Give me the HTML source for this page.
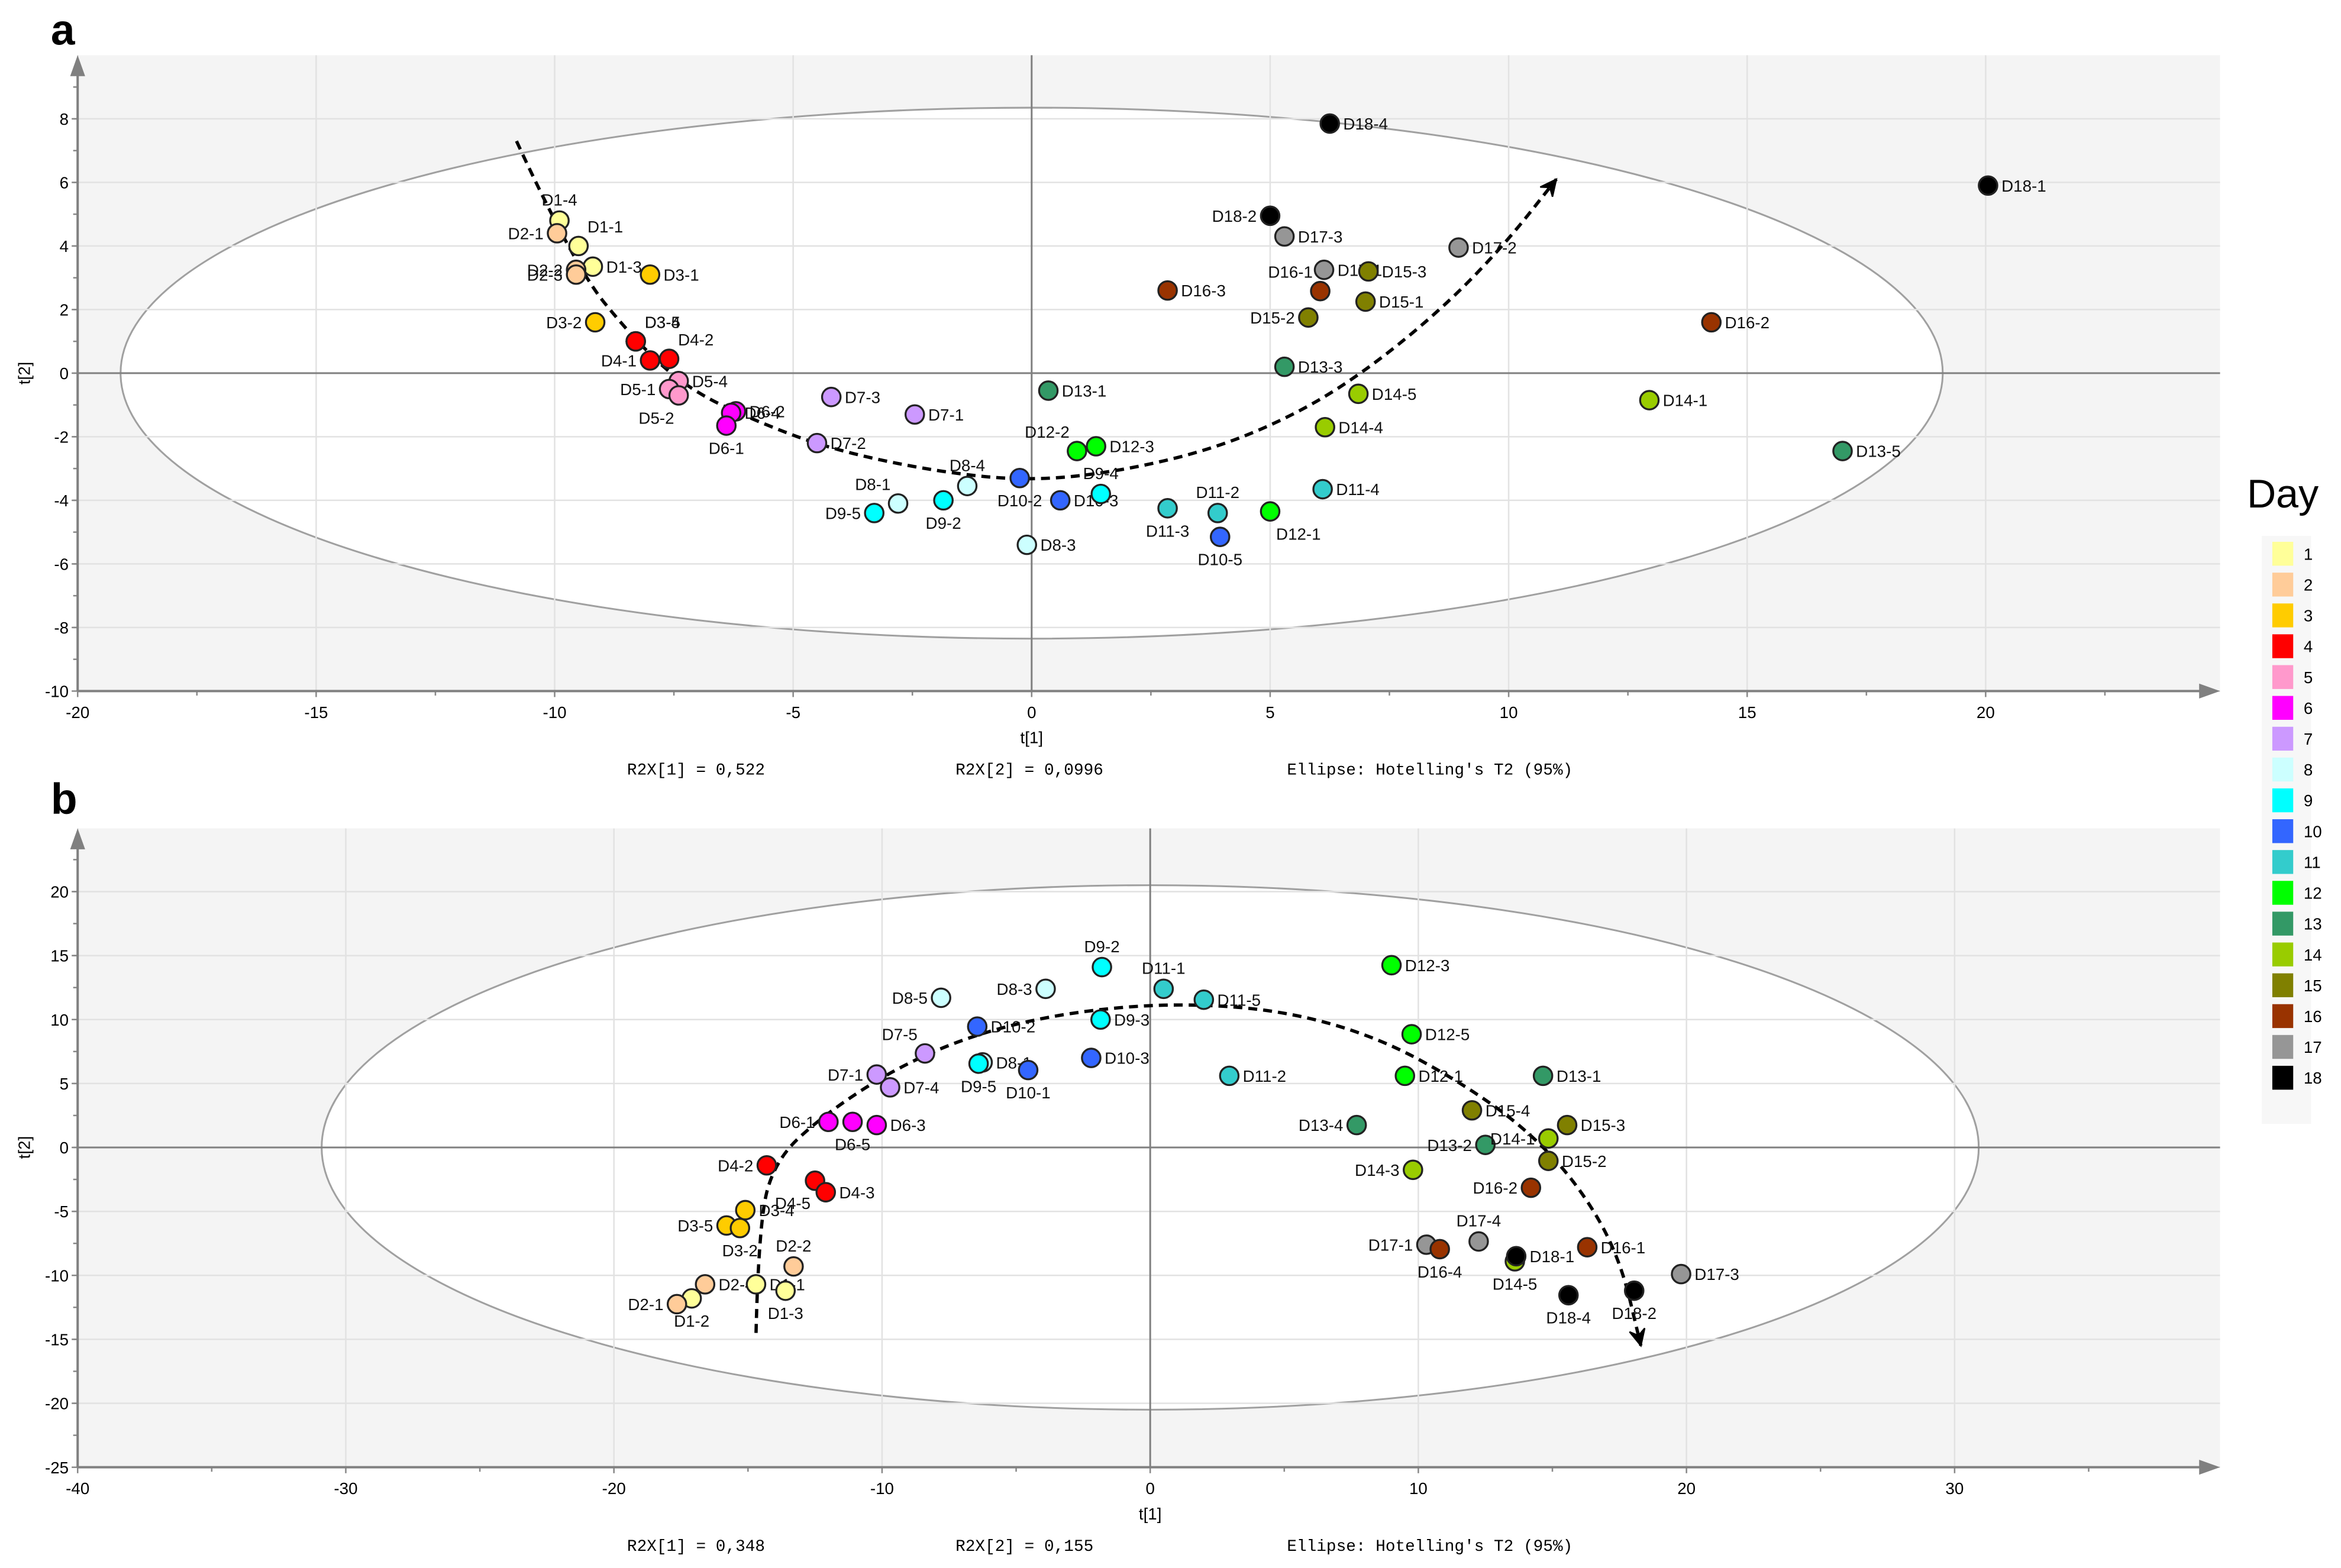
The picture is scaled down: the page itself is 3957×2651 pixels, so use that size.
<!DOCTYPE html>
<html><head><meta charset="utf-8"><title>PCA score plots</title>
<style>
html,body{margin:0;padding:0;background:#fff;}
svg{display:block;}
text{font-family:"Liberation Sans Narrow","Liberation Sans",sans-serif;}
.mono{font-family:"Liberation Mono",monospace;}
</style></head>
<body>
<svg id="chart" xmlns="http://www.w3.org/2000/svg" width="3957" height="2651" viewBox="0 0 1568 1050.5">
<rect x="0" y="0" width="1568" height="1050.5" fill="#fff"/>
<g id="pa"></g>
<g id="pb"></g>
<g id="legend"></g>
</svg>
<script>
const dayColors = ["#ffff99","#ffcc99","#ffcc00","#ff0000","#ff99cc","#ff00ff","#cc99ff","#ccffff","#00ffff","#3366ff","#33cccc","#00ff00","#339966","#99cc00","#808000","#993300","#969696","#000000"];
const dayLabels = ["1","2","3","4","5","6","7","8","9","10","11","12","13","14","15","16","17","18"];

// Panel a data
const aNames = ["D3-4","D3-5","D1-4","D1-1","D2-1","D1-3","D2-2","D2-3","D3-1","D3-2","D4-4","D4-1","D4-2","D5-4","D5-1","D5-2","D6-2","D6-4","D6-1","D7-3","D7-1","D7-2","D8-4","D8-1","D9-5","D9-2","D10-2","D10-3","D9-4","D8-3","D13-1","D12-2","D12-3","D11-3","D11-2","D10-5","D12-1","D11-4","D14-4","D14-5","D13-3","D15-2","D16-1","D17-1","D15-3","D15-1","D16-3","D17-3","D18-2","D17-2","D18-4","D18-1","D16-2","D14-1","D13-5"];
const aX = [-8.3,-8.3,-9.9,-9.5,-9.95,-9.2,-9.55,-9.55,-8.0,-9.15,-8.3,-8.0,-7.6,-7.4,-7.6,-7.4,-6.2,-6.3,-6.4,-4.2,-2.45,-4.5,-1.35,-2.8,-3.3,-1.85,-0.25,0.6,1.45,-0.1,0.35,0.95,1.35,2.85,3.9,3.95,5.0,6.1,6.15,6.85,5.3,5.8,6.05,6.13,7.06,7.0,2.85,5.3,5.0,8.95,6.25,20.05,14.25,12.95,17.0];
const aY = [1.0,1.0,4.8,4.0,4.4,3.35,3.25,3.1,3.1,1.6,1.0,0.4,0.45,-0.25,-0.5,-0.7,-1.2,-1.25,-1.65,-0.75,-1.3,-2.2,-3.55,-4.1,-4.4,-4.0,-3.3,-4.0,-3.8,-5.4,-0.55,-2.45,-2.3,-4.25,-4.4,-5.15,-4.35,-3.65,-1.7,-0.65,0.2,1.75,2.58,3.25,3.2,2.25,2.6,4.3,4.95,3.95,7.85,5.9,1.6,-0.85,-2.45];
const aSide = ["tr","tr","t","tr","l","r","l","l","r","l","n","l","tr","r","l","bl","r","r","b","r","r","r","t","tl","l","b","b","r","t","r","r","tl","r","b","t","b","br","r","r","r","r","l","tl","r","r","r","r","r","l","r","r","r","r","r","r"];

// Panel b data
const bNames = ["D4-2","D4-5","D4-3","D3-4","D3-5","D3-2","D2-2","D2-4","D1-2","D2-1","D1-1","D1-3","D6-1","D6-5","D6-3","D7-1","D7-4","D7-5","D8-5","D8-3","D9-2","D11-1","D11-5","D10-2","D9-3","D8-1","D9-5","D10-1","D10-3","D11-2","D12-3","D12-5","D12-1","D13-1","D13-4","D15-4","D15-3","D13-2","D14-1","D15-2","D14-3","D16-2","D17-4","D17-1","D16-4","D14-5","D18-1","D16-1","D17-3","D18-4","D18-2"];
const bX = [-14.3,-12.5,-12.1,-15.1,-15.8,-15.3,-13.3,-16.6,-17.1,-17.65,-14.7,-13.6,-12.0,-11.1,-10.2,-10.2,-9.7,-8.4,-7.8,-3.9,-1.8,0.5,2.0,-6.45,-1.85,-6.25,-6.4,-4.55,-2.2,2.95,9.0,9.75,9.5,14.65,7.7,12.0,15.55,12.5,14.85,14.85,9.8,14.2,12.25,10.3,10.8,13.6,13.65,16.3,19.8,15.6,18.05];
const bY = [-1.4,-2.6,-3.5,-4.9,-6.1,-6.3,-9.3,-10.7,-11.8,-12.25,-10.7,-11.2,2.0,2.0,1.75,5.7,4.7,7.35,11.7,12.4,14.1,12.4,11.55,9.45,10.0,6.65,6.55,6.05,7.0,5.6,14.25,8.85,5.6,5.6,1.75,2.9,1.75,0.2,0.7,-1.05,-1.75,-3.15,-7.35,-7.6,-7.95,-8.9,-8.5,-7.8,-9.9,-11.55,-11.2];
const bSide = ["l","bl","r","r","l","b","t","r","b","l","r","b","l","b","r","l","r","tl","l","l","t","t","r","r","r","r","b","b","r","r","r","r","r","r","l","r","r","l","l","r","l","l","t","l","b","b","r","r","r","b","b"];

const NS="http://www.w3.org/2000/svg";
function mk(tag, attrs, parent){const e=document.createElementNS(NS,tag);for(const k in attrs)e.setAttribute(k,attrs[k]);parent.appendChild(e);return e;}
function dayOf(n){return parseInt(n.split("-")[0].slice(1),10);}

function panel(g, cfg, names, xs, ys, sides){
  const sx=v=>cfg.x0+(v-cfg.xmin)*cfg.kx;
  const sy=v=>cfg.yb-(v-cfg.ymin)*cfg.ky;
  const L=cfg.x0, R=cfg.xr, T=cfg.top, B=cfg.yb;
  const bg=mk("rect",{x:L,y:T,width:R-L,height:B-T,fill:"#f4f4f4"},g);
  
  
  const el=mk("ellipse",{cx:sx(0),cy:sy(0),rx:cfg.ea*cfg.kx,ry:cfg.eb*cfg.ky,fill:"#fff",stroke:"#a0a0a0","stroke-width":1.2},g);
  
  
  for(let v=cfg.xmin; v<=cfg.xmaxTick; v+=cfg.xstep){
    const gl=mk("line",{x1:sx(v),x2:sx(v),y1:T,y2:B,stroke:"#e2e2e2","stroke-width":1},g);
    
    
    const t=mk("text",{x:sx(v),y:B+18,"text-anchor":"middle","font-size":11,fill:"#000"},g);
    t.textContent=String(v);
    
    
    mk("line",{x1:sx(v),x2:sx(v),y1:B,y2:B+4,stroke:"#888"},g);
  }
  for(let v=cfg.xmin+cfg.xstep/2; v<=cfg.xmaxTick+cfg.xstep; v+=cfg.xstep){
    if(sx(v)<R-10) mk("line",{x1:sx(v),x2:sx(v),y1:B,y2:B+3,stroke:"#888"},g);
  }
  for(let v=cfg.ymin; v<=cfg.ymaxTick; v+=cfg.ystep){
    const gl=mk("line",{x1:L,x2:R,y1:sy(v),y2:sy(v),stroke:"#e2e2e2","stroke-width":1},g);
    
    
    const t=mk("text",{x:L-6,y:sy(v)+4,"text-anchor":"end","font-size":11,fill:"#000"},g);
    t.textContent=String(v);
    
    
    mk("line",{x1:L-4,x2:L,y1:sy(v),y2:sy(v),stroke:"#888"},g);
  }
  for(let v=cfg.ymin+cfg.yminor; v<=cfg.ymaxTick+cfg.ystep; v+=cfg.yminor){
    if(sy(v)>T+10) mk("line",{x1:L-3,x2:L,y1:sy(v),y2:sy(v),stroke:"#888"},g);
  }
  mk("line",{x1:sx(0),x2:sx(0),y1:T,y2:B,stroke:"#808080","stroke-width":1.2},g);
  mk("line",{x1:L,x2:R,y1:sy(0),y2:sy(0),stroke:"#808080","stroke-width":1.2},g);
  const xa=mk("line",{x1:L,x2:R-10,y1:B,y2:B,stroke:"#808080","stroke-width":1.6},g);
  
  
  mk("path",{d:`M${R},${B} L${R-14},${B-5} L${R-14},${B+5} Z`,fill:"#808080"},g);
  const ya=mk("line",{x1:L,x2:L,y1:B,y2:T+10,stroke:"#808080","stroke-width":1.6},g);
  
  
  mk("path",{d:`M${L},${T} L${L-5},${T+14} L${L+5},${T+14} Z`,fill:"#808080"},g);
  const xt=mk("text",{x:sx(0),y:B+35,"text-anchor":"middle","font-size":11},g);
  xt.textContent="t[1]";
  
  
  const yt=mk("text",{x:0,y:0,"text-anchor":"middle","font-size":11,transform:`translate(20,${sy(0)}) rotate(-90)`},g);
  yt.textContent="t[2]";
  
  
  const fy=B+56;
  const f1=mk("text",{x:420,y:fy,"font-size":11,"class":"mono"},g);f1.textContent=cfg.r1;
  
  
  const f2=mk("text",{x:640,y:fy,"font-size":11,"class":"mono"},g);f2.textContent=cfg.r2;
  
  
  const f3=mk("text",{x:862,y:fy,"font-size":11,"class":"mono"},g);f3.textContent="Ellipse: Hotelling's T2 (95%)";
  
  
  const pts=cfg.curve.map(p=>[sx(p[0]),sy(p[1])]);
  let d=`M${pts[0][0]},${pts[0][1]}`;
  for(let i=1;i<pts.length-1;i++){const mx=(pts[i][0]+pts[i+1][0])/2,my=(pts[i][1]+pts[i+1][1])/2;d+=` Q${pts[i][0]},${pts[i][1]} ${mx},${my}`;}
  const last=pts[pts.length-1];d+=` L${last[0]},${last[1]}`;
  const cv=mk("path",{d:d,fill:"none",stroke:"#000","stroke-width":2.2,"stroke-dasharray":"6,4"},g);
  
  
  const pv=pts[pts.length-2];const ang=Math.atan2(last[1]-pv[1],last[0]-pv[0]);
  const ah=12,aw=0.45;
  mk("path",{d:`M${last[0]-ah*Math.cos(ang-aw)},${last[1]-ah*Math.sin(ang-aw)} L${last[0]},${last[1]} L${last[0]-ah*Math.cos(ang+aw)},${last[1]-ah*Math.sin(ang+aw)} L${last[0]-7*Math.cos(ang)},${last[1]-7*Math.sin(ang)} Z`,fill:"#000",stroke:"#000","stroke-width":1},g);
  for(let i=0;i<names.length;i++){
    const px=sx(xs[i]),py=sy(ys[i]);
    const c=mk("circle",{cx:px,cy:py,r:6.2,fill:dayColors[dayOf(names[i])-1],stroke:"#222","stroke-width":1.3},g);
    
    
    const s=sides[i]; if(s==="n") continue;
    let tx=px,ty=py+4,an="start";
    if(s==="r"){tx=px+9;}
    else if(s==="l"){tx=px-9;an="end";}
    else if(s==="t"){ty=py-10;an="middle";}
    else if(s==="b"){ty=py+19;an="middle";}
    else if(s==="tr"){tx=px+6;ty=py-9;}
    else if(s==="tl"){tx=px-5;ty=py-9;an="end";}
    else if(s==="br"){tx=px+4;ty=py+19;}
    else if(s==="bl"){tx=px-3;ty=py+19;an="end";}
    const t=mk("text",{x:tx,y:ty,"text-anchor":an,"font-size":11,fill:"#111"},g);
    t.textContent=names[i];
    
    
  }
}

panel(document.getElementById("pa"),{x0:52,xmin:-20,kx:31.95,xr:1487,xstep:5,xmaxTick:20,yb:463,ymin:-10,ky:21.3,top:37,ystep:2,yminor:1,ymaxTick:8,ea:19.1,eb:8.35,r1:"R2X[1] = 0,522",r2:"R2X[2] = 0,0996",
  curve:[[-10.8,7.3],[-9.6,3.4],[-8.3,1.0],[-7.2,-0.5],[-5.8,-1.5],[-4.2,-2.4],[-2,-3.1],[0,-3.4],[2,-3.05],[4,-2.3],[5.8,-1.1],[7.3,0.4],[8.8,2.3],[10,4.2],[11,6.1]]},aNames,aX,aY,aSide);
panel(document.getElementById("pb"),{x0:52,xmin:-40,kx:17.96,xr:1487,xstep:10,xmaxTick:30,yb:983,ymin:-25,ky:8.57,top:555,ystep:5,yminor:2.5,ymaxTick:20,ea:30.9,eb:20.5,r1:"R2X[1] = 0,348",r2:"R2X[2] = 0,155",
  curve:[[-14.7,-14.5],[-14.6,-6],[-14,-1],[-12.2,2.5],[-9.5,6.2],[-6.5,8.9],[-3,10.6],[1,11.3],[5,10.7],[8.5,8.6],[11.5,5.2],[14,1.5],[16,-3],[17.5,-8.5],[18.3,-15.5]]},bNames,bX,bY,bSide);

const s=document.getElementById("chart");
const la=mk("text",{x:34,y:30,"font-size":29,"font-weight":"bold","font-family":"Liberation Sans, sans-serif"},s);la.textContent="a";


const lb=mk("text",{x:34,y:545,"font-size":29,"font-weight":"bold","font-family":"Liberation Sans, sans-serif"},s);lb.textContent="b";



const lg=document.getElementById("legend");
const ttl=mk("text",{x:1505,y:340,"font-size":27,fill:"#000","font-family":"Liberation Sans, sans-serif"},lg);ttl.textContent="Day";


mk("rect",{x:1515,y:359,width:33,height:394,fill:"#f7f7f7"},lg);
for(let i=0;i<dayLabels.length;i++){
  const y=371+i*20.65;
  const r=mk("rect",{x:1522,y:y-8,width:14,height:16,fill:dayColors[i]},lg);
  
  
  const t=mk("text",{x:1543,y:y+4,"font-size":11,fill:"#000"},lg);t.textContent=dayLabels[i];
  
  
}
</script>
</body></html>
